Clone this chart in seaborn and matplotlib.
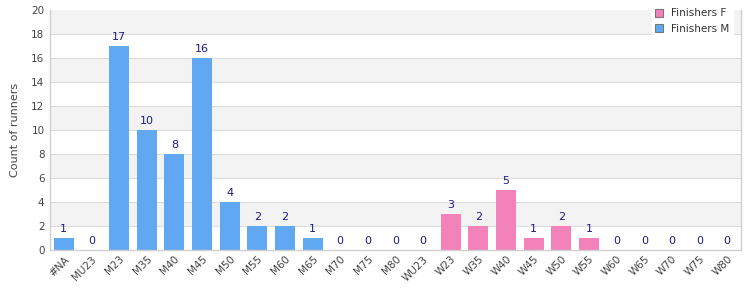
import matplotlib
matplotlib.use("Agg")
import matplotlib.pyplot as plt
import seaborn as sns
import pandas as pd
from matplotlib.patches import Patch

categories = ["#NA", "MU23", "M23", "M35", "M40", "M45", "M50", "M55", "M60", "M65",
              "M70", "M75", "M80", "WU23", "W23", "W35", "W40", "W45", "W50", "W55",
              "W60", "W65", "W70", "W75", "W80"]
values = [1, 0, 17, 10, 8, 16, 4, 2, 2, 1,
          0, 0, 0, 0, 3, 2, 5, 1, 2, 1,
          0, 0, 0, 0, 0]
series = ["Finishers M"] * 14 + ["Finishers F"] * 11

blue = "#60a8f2"
pink = "#f282b9"
palette = {"Finishers M": blue, "Finishers F": pink}

df = pd.DataFrame({"cat": categories, "val": values, "series": series})

sns.set_style("white")
plt.rcParams["font.family"] = ["DejaVu Sans"]

fig = plt.figure(figsize=(7.5, 3), dpi=100)
ax = fig.add_axes([50/750, 50/300, 691/750, 240/300])

# alternating bands
for lo in range(2, 20, 4):
    ax.axhspan(lo, lo + 2, color="#f3f3f3", zorder=0, lw=0)
for y in range(2, 20, 2):
    ax.axhline(y, color="#dcdcdc", lw=0.8, zorder=0.5)

sns.barplot(data=df, x="cat", y="val", hue="series", palette=palette, dodge=False,
            width=0.72, ax=ax, legend=False, order=categories, zorder=2,
            saturation=1, linewidth=0, edgecolor="none")

for i, v in enumerate(values):
    ax.text(i, v + 0.3, str(v), ha="center", va="bottom", fontsize=8, color="#1a1a8c")

ax.set_ylim(0, 20)
ax.set_xlim(-0.5, len(categories) - 0.5)
ax.set_yticks(range(0, 21, 2))
ax.tick_params(axis="y", labelsize=7.5, colors="#444444", length=0, pad=4)
ax.tick_params(axis="x", labelsize=7.5, colors="#444444", length=0, pad=3)
plt.setp(ax.get_xticklabels(), rotation=45, ha="right", rotation_mode="anchor")
ax.set_xlabel("")
ax.set_ylabel("Count of runners", fontsize=8, color="#444444", labelpad=8)

for s in ["left", "bottom", "right"]:
    ax.spines[s].set_visible(True)
    ax.spines[s].set_color("#d0d0d0")
    ax.spines[s].set_linewidth(1)
ax.spines["top"].set_visible(False)

handles = [Patch(facecolor=pink, edgecolor="#777777", lw=0.8, label="Finishers F"),
           Patch(facecolor=blue, edgecolor="#777777", lw=0.8, label="Finishers M")]
leg = fig.legend(handles=handles, loc="upper right", bbox_to_anchor=(738/750, 1.0),
                 fontsize=7.5, frameon=True, fancybox=False, framealpha=1,
                 edgecolor="white", handlelength=0.8, handleheight=0.8,
                 handletextpad=0.8, borderpad=0.3, labelspacing=0.5)
for t in leg.get_texts():
    t.set_color("#333333")

fig.savefig("out.png", dpi=100)
